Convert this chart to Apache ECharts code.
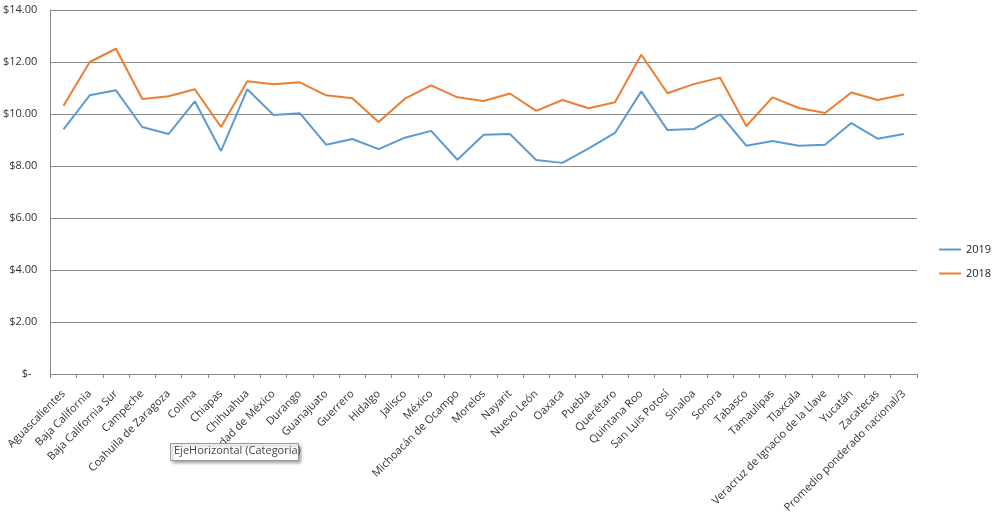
<!DOCTYPE html>
<html>
<head>
<meta charset="utf-8">
<script src="https://cdn.jsdelivr.net/npm/echarts@6/dist/echarts.min.js"></script>
<style>
  html, body { margin: 0; padding: 0; background: #fff; }
  #chart { width: 1008px; height: 520px; }
</style>
</head>
<body>
<div id="chart"></div>
<script>
// Estados (eje horizontal)
var estados = [
  "Aguascalientes", "Baja California", "Baja California Sur", "Campeche",
  "Coahuila de Zaragoza", "Colima", "Chiapas", "Chihuahua", "Ciudad de México",
  "Durango", "Guanajuato", "Guerrero", "Hidalgo", "Jalisco", "México",
  "Michoacán de Ocampo", "Morelos", "Nayarit", "Nuevo León", "Oaxaca", "Puebla",
  "Querétaro", "Quintana Roo", "San Luis Potosí", "Sinaloa", "Sonora", "Tabasco",
  "Tamaulipas", "Tlaxcala", "Veracruz de Ignacio de la Llave", "Yucatán",
  "Zacatecas", "Promedio ponderado nacional/3"
];

var valores2019 = [
  9.41, 10.72, 10.91, 9.50, 9.23, 10.49, 8.58, 10.95, 9.96,
  10.03, 8.82, 9.04, 8.65, 9.09, 9.35, 8.24, 9.20, 9.23, 8.23, 8.12, 8.68,
  9.27, 10.87, 9.38, 9.42, 9.99, 8.78, 8.96, 8.78, 8.82, 9.65,
  9.05, 9.23
];

var valores2018 = [
  10.32, 12.00, 12.51, 10.58, 10.68, 10.95, 9.50, 11.26, 11.14,
  11.22, 10.72, 10.61, 9.69, 10.59, 11.10, 10.64, 10.50, 10.79, 10.12, 10.54, 10.22,
  10.45, 12.28, 10.80, 11.15, 11.40, 9.54, 10.64, 10.23, 10.04, 10.83,
  10.54, 10.75
];

var fuente = "'Open Sans', 'Noto Sans', sans-serif";

var chartDom = document.getElementById("chart");
var myChart = echarts.init(chartDom);
var option;

option = {
  animation: false,
  textStyle: { fontFamily: fuente },
  grid: { left: 49, right: 91, top: 10, bottom: 146, containLabel: false },
  legend: {
    orient: "vertical",
    left: 934,
    top: 239,
    itemWidth: 22,
    itemHeight: 2,
    itemGap: 13,
    icon: "rect",
    textStyle: { fontSize: 11, color: "#222", fontFamily: fuente },
    data: ["2019", "2018"]
  },
  xAxis: {
    type: "category",
    data: estados,
    boundaryGap: true,
    axisLine: { lineStyle: { color: "#888", width: 1 } },
    axisTick: { show: true, alignWithLabel: false, length: 4, lineStyle: { color: "#888" } },
    axisLabel: {
      interval: 0,
      rotate: 45,
      margin: 18,
      fontSize: 11,
      color: "#333",
      fontFamily: fuente
    }
  },
  yAxis: {
    type: "value",
    min: 0,
    max: 14,
    interval: 2,
    axisLine: { show: true, lineStyle: { color: "#888", width: 1 } },
    axisTick: { show: false },
    splitLine: { lineStyle: { color: "#8c8c8c", width: 1 } },
    axisLabel: {
      margin: 13,
      fontSize: 11,
      color: "#333",
      fontFamily: fuente,
      formatter: function (v) {
        return v === 0 ? "$-  " : "$" + v.toFixed(2);
      }
    }
  },
  series: [
    {
      name: "2019",
      type: "line",
      data: valores2019,
      symbol: "none",
      lineStyle: { color: "#5B9BD5", width: 2 },
      itemStyle: { color: "#5B9BD5" }
    },
    {
      name: "2018",
      type: "line",
      data: valores2018,
      symbol: "none",
      lineStyle: { color: "#ED7D31", width: 2 },
      itemStyle: { color: "#ED7D31" }
    }
  ],
  graphic: [
    {
      type: "rect",
      left: 170,
      top: 443,
      z: 100,
      shape: { width: 128, height: 17 },
      style: {
        fill: "#fff",
        stroke: "#9a9a9a",
        lineWidth: 1,
        shadowBlur: 3,
        shadowOffsetX: 2,
        shadowOffsetY: 2,
        shadowColor: "rgba(0,0,0,0.35)"
      }
    },
    {
      type: "text",
      left: 174,
      top: 445,
      z: 101,
      style: {
        text: "EjeHorizontal (Categoría)",
        fontSize: 11,
        fontFamily: fuente,
        fill: "#444"
      }
    }
  ]
};

option && myChart.setOption(option);
</script>
</body>
</html>
